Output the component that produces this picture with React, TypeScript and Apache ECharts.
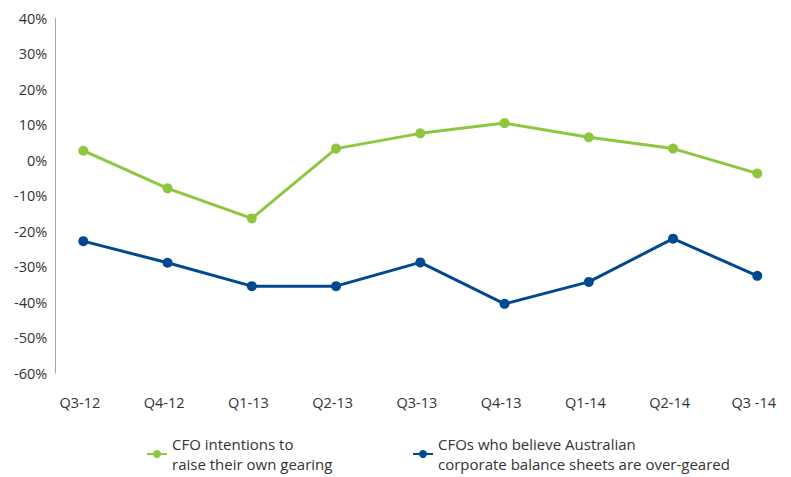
import React, { useEffect, useRef } from "react";
import * as echarts from "echarts";

const categories = ["Q3-12", "Q4-12", "Q1-13", "Q2-13", "Q3-13", "Q4-13", "Q1-14", "Q2-14", "Q3 -14"];
const gearingIntentions = [2.7, -7.9, -16.4, 3.3, 7.6, 10.5, 6.5, 3.3, -3.7];
const overGeared = [-22.8, -28.9, -35.5, -35.5, -28.8, -40.5, -34.3, -22.1, -32.6];
const seriesNames = [
  "CFO intentions to\nraise their own gearing",
  "CFOs who believe Australian\ncorporate balance sheets are over-geared",
];

const GREEN = "#8dc63f";
const BLUE = "#004990";
const FONT = "'Open Sans', 'Noto Sans', sans-serif";
const TEXT = "#333333";

export default function App() {
  const ref = useRef<HTMLDivElement>(null);
  useEffect(() => {
    if (!ref.current) return;
    const chart = echarts.init(ref.current, undefined, { renderer: "svg" });
    const legendCommon = {
      orient: "horizontal" as const,
      padding: 0,
      itemWidth: 20,
      itemHeight: 10,
      itemGap: 6,
      textStyle: {
        fontFamily: FONT,
        fontSize: 15,
        color: TEXT,
        lineHeight: 20,
        padding: [20, 0, 0, 0],
      },
    };
    chart.setOption({
      animation: false,
      grid: { left: 83.3, right: 33.7, top: 18.5, height: 354.5, containLabel: false },
      legend: [
        { ...legendCommon, left: 146, top: 424, data: [seriesNames[0]] },
        { ...legendCommon, left: 412, top: 424, data: [seriesNames[1]] },
      ],
      xAxis: {
        type: "category",
        data: categories,
        boundaryGap: false,
        axisLine: { show: false },
        axisTick: { show: false },
        axisLabel: {
          margin: 22,
          fontFamily: FONT,
          fontSize: 14.5,
          color: TEXT,
          padding: [0, 7, 0, 0],
        },
        splitLine: { show: false },
      },
      yAxis: {
        type: "value",
        min: -60,
        max: 40,
        interval: 10,
        offset: 28,
        axisLine: { show: true, lineStyle: { color: "#a6a6a6", width: 1 } },
        axisTick: { show: false },
        splitLine: { show: false },
        axisLabel: {
          margin: 8,
          fontFamily: FONT,
          fontSize: 14.5,
          color: TEXT,
          formatter: (v: number) => `${v}%`,
        },
      },
      series: [
        {
          name: seriesNames[0],
          type: "line",
          data: gearingIntentions,
          symbol: "circle",
          symbolSize: 10,
          lineStyle: { color: GREEN, width: 3 },
          itemStyle: { color: GREEN },
        },
        {
          name: seriesNames[1],
          type: "line",
          data: overGeared,
          symbol: "circle",
          symbolSize: 10,
          lineStyle: { color: BLUE, width: 3 },
          itemStyle: { color: BLUE },
        },
      ],
    });
    return () => chart.dispose();
  }, []);
  return (
    <div
      ref={ref}
      style={{ position: "absolute", left: 0, top: 0, width: 791, height: 477, background: "#fff" }}
    />
  );
}
